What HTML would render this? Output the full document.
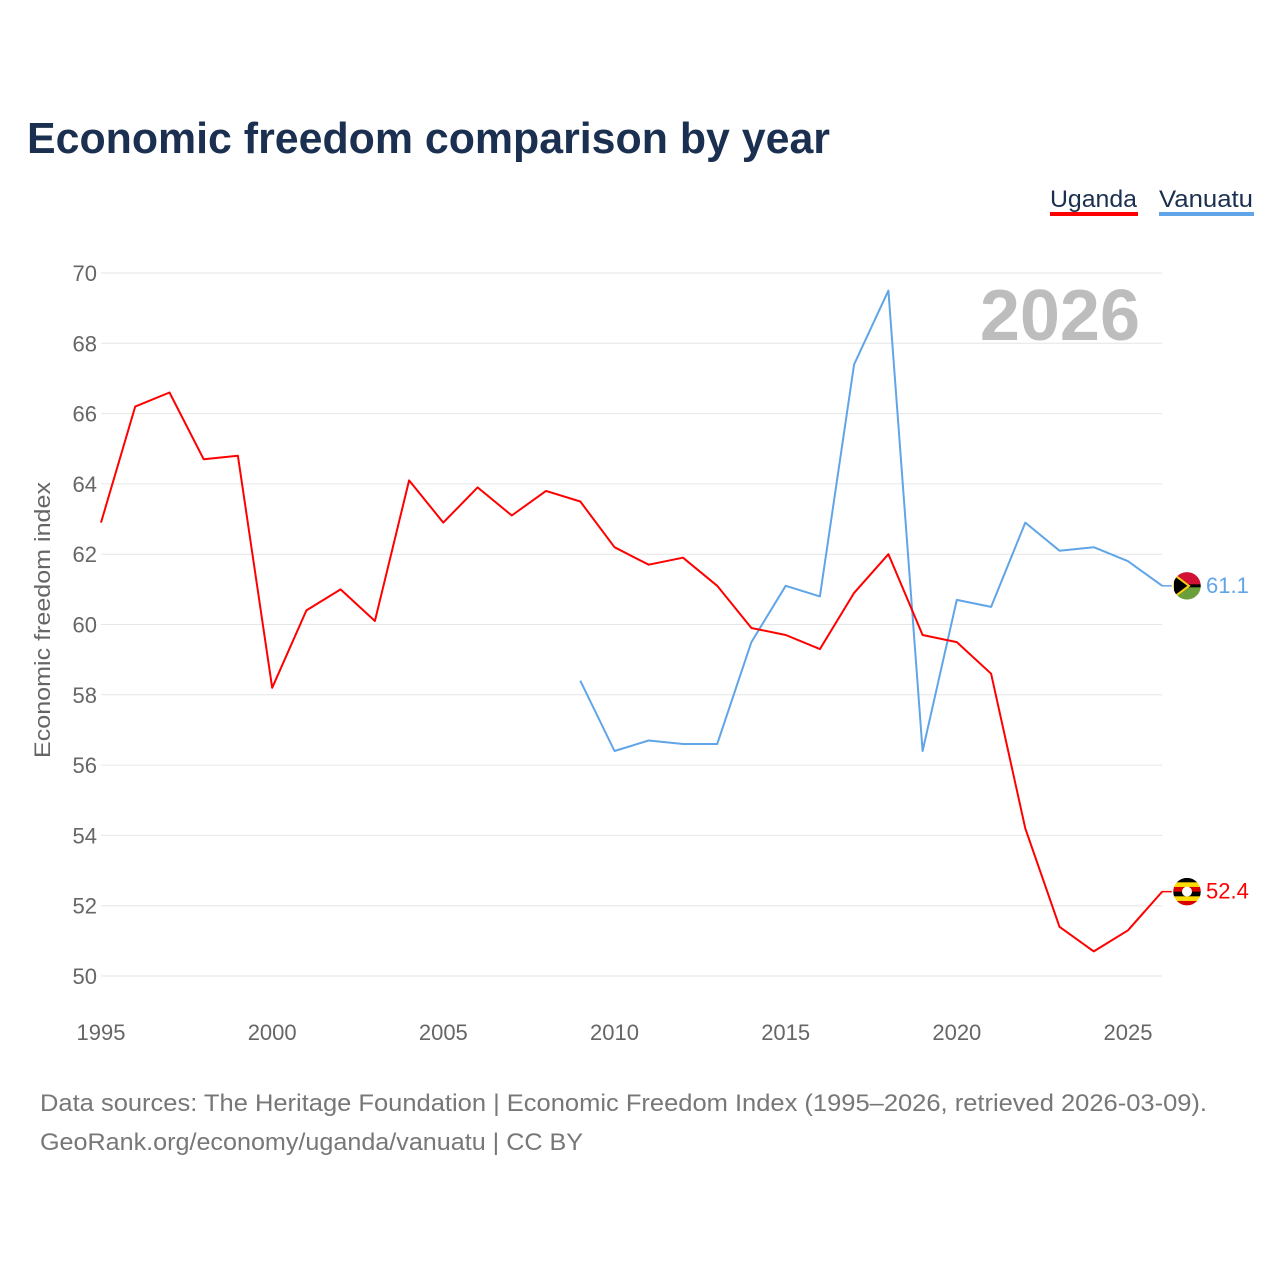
<!DOCTYPE html>
<html><head><meta charset="utf-8"><style>
body{margin:0;background:#fff;font-family:"Liberation Sans",sans-serif}
svg text{font-family:"Liberation Sans",sans-serif}
</style></head><body>
<svg width="1280" height="1280" viewBox="0 0 1280 1280" xmlns="http://www.w3.org/2000/svg">
<defs><clipPath id="cu"><circle cx="1187" cy="891" r="14"/></clipPath><clipPath id="cv"><circle cx="1187" cy="585" r="14"/></clipPath></defs>
<text x="27" y="153" font-size="44" font-weight="bold" fill="#1b3050" textLength="803" lengthAdjust="spacingAndGlyphs">Economic freedom comparison by year</text>
<g><text x="1050" y="207" font-size="24" fill="#1b3050" textLength="87" lengthAdjust="spacingAndGlyphs">Uganda</text><rect x="1050" y="212" width="88" height="4" fill="#ff0000"/></g>
<g><text x="1159" y="207" font-size="24" fill="#1b3050" textLength="94" lengthAdjust="spacingAndGlyphs">Vanuatu</text><rect x="1159" y="212" width="95" height="4" fill="#60a5e8"/></g>
<text x="1140" y="340" font-size="72" font-weight="bold" fill="#bdbdbd" text-anchor="end">2026</text>
<text transform="translate(50,620) rotate(-90)" font-size="22" fill="#666" text-anchor="middle" textLength="276" lengthAdjust="spacingAndGlyphs">Economic freedom index</text>
<g id="grid"></g><g id="series"></g><g id="ends"></g>
<text x="40" y="1111" font-size="24" fill="#777" textLength="1167" lengthAdjust="spacingAndGlyphs">Data sources: The Heritage Foundation | Economic Freedom Index (1995–2026, retrieved 2026-03-09).</text>
<text x="40" y="1150" font-size="24" fill="#777" textLength="543" lengthAdjust="spacingAndGlyphs">GeoRank.org/economy/uganda/vanuatu | CC BY</text>
</svg>
<script>
const years=[1995,1996,1997,1998,1999,2000,2001,2002,2003,2004,2005,2006,2007,2008,2009,2010,2011,2012,2013,2014,2015,2016,2017,2018,2019,2020,2021,2022,2023,2024,2025,2026];
const uganda=[62.9,66.2,66.6,64.7,64.8,58.2,60.4,61.0,60.1,64.1,62.9,63.9,63.1,63.8,63.5,62.2,61.7,61.9,61.1,59.9,59.7,59.3,60.9,62.0,59.7,59.5,58.6,54.2,51.4,50.7,51.3,52.4];
const vanuatu=[null,null,null,null,null,null,null,null,null,null,null,null,null,null,58.4,56.4,56.7,56.6,56.6,59.5,61.1,60.8,67.4,69.5,56.4,60.7,60.5,62.9,62.1,62.2,61.8,61.1];
const yTicks=[50,52,54,56,58,60,62,64,66,68,70];
const xTicks=[1995,2000,2005,2010,2015,2020,2025];
const NS="http://www.w3.org/2000/svg";
const X=y=>101+(y-1995)*(1027/30);
const Y=v=>976-(v-50)*(703/20);
function mk(t,a,p){const e=document.createElementNS(NS,t);for(const k in a)e.setAttribute(k,a[k]);p.appendChild(e);return e;}
const g=document.getElementById('grid');
yTicks.forEach(v=>{
 const l=mk('line',{x1:101,x2:1162,y1:Y(v),y2:Y(v),stroke:'#e6e6e6','stroke-width':1},g);
 
 
 const t=mk('text',{x:97,y:Y(v)+8,'font-size':22,fill:'#666','text-anchor':'end'},g);t.textContent=v;
 
 
});
xTicks.forEach(v=>{
 const t=mk('text',{x:X(v),y:1040,'font-size':22,fill:'#666','text-anchor':'middle'},g);t.textContent=v;
 
 
});
const s=document.getElementById('series');
function line(vals,col,name){
 let d='';vals.forEach((v,i)=>{if(v==null)return;d+=(d?'L':'M')+X(years[i]).toFixed(1)+','+Y(v).toFixed(1);});
 const p=mk('path',{d:d,fill:'none',stroke:col,'stroke-width':2,'stroke-linejoin':'round'},s);
 
 
}
line(vanuatu,'#60a5e8','vanuatu-line');
line(uganda,'#ff0000','uganda-line');
const e=document.getElementById('ends');
function endLabel(v,col,name,flag){
 const cx=1187,cy=Y(v);
 document.getElementById(flag==='ug'?'cu':'cv').firstElementChild.setAttribute('cy',cy);
 mk('line',{x1:1162,x2:1173,y1:cy,y2:cy,stroke:col,'stroke-width':1.5},e);
 const gg=mk('g',{'clip-path':flag==='ug'?'url(#cu)':'url(#cv)'},e);
 
 
 if(flag==='ug'){
  const c=['#000','#fcdc04','#d90000','#000','#fcdc04','#d90000'];
  c.forEach((cl,i)=>mk('rect',{x:cx-14,y:cy-14+i*28/6,width:28,height:28/6+0.5,fill:cl},gg));
  mk('circle',{cx:cx,cy:cy,r:5,fill:'#fff'},gg);
 } else {
  mk('rect',{x:cx-14,y:cy-14,width:28,height:14,fill:'#d21034'},gg);
  mk('rect',{x:cx-14,y:cy,width:28,height:14,fill:'#6a9f3b'},gg);
  mk('rect',{x:cx-14,y:cy-1.5,width:28,height:3,fill:'#000'},gg);
  mk('path',{d:`M${cx-14},${cy-12}L${cx+2},${cy}L${cx-14},${cy+12}Z`,fill:'#000',stroke:'#fdce12','stroke-width':2},gg);
 }
 const ring=mk('circle',{cx:cx,cy:cy,r:14.5,fill:'none',stroke:'#fff','stroke-width':1.5},e);
 
 
 const t=mk('text',{x:1206,y:cy+7,'font-size':22,fill:col},e);t.textContent=v.toFixed(1);
 
 
}
endLabel(vanuatu[vanuatu.length-1],'#60a5e8','vanuatu','vu');
endLabel(uganda[uganda.length-1],'#ff0000','uganda','ug');
</script>
</body></html>
